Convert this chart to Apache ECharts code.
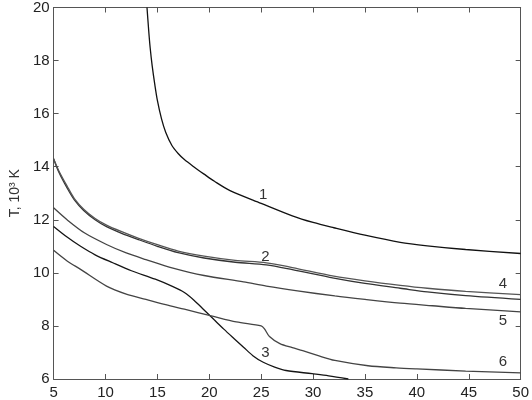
<!DOCTYPE html>
<html>
<head>
<meta charset="utf-8">
<script src="https://cdn.jsdelivr.net/npm/echarts@6/dist/echarts.min.js"></script>
<style>
html,body{margin:0;padding:0;background:#fff;}
#main{width:532px;height:400px;}
</style>
</head>
<body>
<div id="main"></div>
<script>
// curve data: [x, T (10^3 K)]
var curve1 = [[14.0,20],[14.15,19.2],[14.3,18.5],[14.5,17.8],[14.75,17.1],[15.0,16.5],[15.4,15.8],[15.8,15.3],[16.4,14.8],[17.0,14.5],[17.6,14.27],[18.5,14.0],[19.5,13.72],[20.5,13.45],[22.0,13.1],[25.0,12.62],[28.0,12.15],[30.0,11.9],[32.0,11.7],[35.0,11.42],[38.4,11.15],[41.0,11.02],[44.7,10.88],[50.0,10.73]];
var curve2 = [[5,14.3],[5.5,13.8],[6.3,13.2],[7.0,12.75],[7.9,12.35],[9.0,12.0],[10.1,11.74],[11.5,11.5],[13.2,11.25],[15.0,11.0],[17.0,10.76],[19.5,10.56],[22.5,10.4],[25.5,10.3],[28.0,10.12],[32.0,9.8],[35.0,9.6],[38.4,9.42],[41.0,9.28],[44.7,9.14],[50.0,9.0]];
var curve4 = [[5,14.3],[5.5,13.85],[6.3,13.27],[7.0,12.8],[7.9,12.4],[9.0,12.05],[10.1,11.8],[11.5,11.56],[13.2,11.3],[15.0,11.06],[17.0,10.82],[19.5,10.63],[22.5,10.47],[25.5,10.38],[28.0,10.2],[32.0,9.88],[35.0,9.7],[38.4,9.53],[41.0,9.42],[44.7,9.3],[50.0,9.18]];
var curve3 = [[5,11.75],[6.3,11.35],[7.6,11.0],[9.0,10.68],[10.7,10.38],[12.5,10.08],[14.8,9.76],[16.5,9.48],[17.6,9.26],[18.5,8.98],[19.5,8.6],[20.5,8.22],[21.4,7.88],[22.4,7.52],[23.3,7.2],[24.2,6.88],[25.2,6.63],[26.3,6.45],[27.4,6.32],[29.9,6.2],[31.5,6.12],[33.4,6.0]];
var curve5 = [[5,12.45],[6.3,12.0],[8.0,11.5],[10.1,11.07],[12.0,10.75],[13.9,10.5],[16.5,10.18],[19.5,9.9],[23.3,9.66],[25.5,9.5],[28.5,9.32],[32.1,9.13],[35.0,9.0],[38.4,8.86],[41.5,8.76],[44.7,8.66],[50.0,8.53]];
var curve6 = [[5,10.85],[6.3,10.45],[7.6,10.13],[10.1,9.5],[12.0,9.2],[13.9,9.0],[15.8,8.8],[17.6,8.63],[20.2,8.38],[22.6,8.15],[25.0,8.0],[25.3,7.9],[25.8,7.6],[26.8,7.33],[28.0,7.18],[29.0,7.07],[30.5,6.88],[32.1,6.7],[35.3,6.5],[38.0,6.42],[40.0,6.38],[44.7,6.3],[50.0,6.23]];

var curveNames = ['1','2','3','4','5','6'];
var curveData = [curve1, curve2, curve3, curve4, curve5, curve6];
var curveColors = ['#111','#333','#151515','#555','#444','#444'];
// where each number label sits (data coords)
var labelX = [25.2, 25.4, 25.4, 48.3, 48.3, 48.3];
var labelY = [12.95, 10.6, 6.98, 9.57, 8.2, 6.64];

var xTicks = {min:5, max:50, interval:5};
var yTicks = {min:6, max:20, interval:2};

var series = [];
for (var i = 0; i < curveData.length; i++) {
	series.push({
		name: curveNames[i],
		type: 'line',
		data: curveData[i],
		showSymbol: false,
		smooth: 0.3,
		clip: true,
		lineStyle: {color: curveColors[i], width: 1.3},
		markPoint: {
			symbol: 'circle',
			symbolSize: 0,
			data: [{coord: [labelX[i], labelY[i]]}],
			label: {show: true, formatter: curveNames[i], color: '#333', fontSize: 15, fontFamily: 'Liberation Sans'}
		}
	});
}

var axisLine = {show: true, lineStyle: {color: '#555', width: 1}};
var option = {
	animation: false,
	grid: {left: 47, right: 9, top: 7, bottom: 19},
	xAxis: [
		{
			type: 'value', min: xTicks.min, max: xTicks.max, interval: xTicks.interval,
			axisLine: axisLine,
			axisTick: {inside: true, length: 5, lineStyle: {color: '#555'}},
			axisLabel: {margin: 6, color: '#222', fontSize: 15, fontFamily: 'Liberation Sans'},
			splitLine: {show: false}
		},
		{
			type: 'value', position: 'top', min: xTicks.min, max: xTicks.max, interval: xTicks.interval,
			axisLine: axisLine,
			axisTick: {inside: true, length: 5, lineStyle: {color: '#555'}},
			axisLabel: {show: false},
			splitLine: {show: false}
		}
	],
	yAxis: [
		{
			type: 'value', min: yTicks.min, max: yTicks.max, interval: yTicks.interval,
			name: 'T, 10\u00b3 K', nameLocation: 'middle', nameGap: 27,
			nameTextStyle: {color: '#333', fontSize: 14, fontFamily: 'Liberation Sans'},
			axisLine: axisLine,
			axisTick: {inside: true, length: 5, lineStyle: {color: '#555'}},
			axisLabel: {margin: 4, color: '#222', fontSize: 15, fontFamily: 'Liberation Sans'},
			splitLine: {show: false}
		},
		{
			type: 'value', position: 'right', min: yTicks.min, max: yTicks.max, interval: yTicks.interval,
			axisLine: axisLine,
			axisTick: {inside: true, length: 5, lineStyle: {color: '#555'}},
			axisLabel: {show: false},
			splitLine: {show: false}
		}
	],
	series: series
};

var myChart = echarts.init(document.getElementById('main'));
myChart.setOption(option);
</script>
</body>
</html>
